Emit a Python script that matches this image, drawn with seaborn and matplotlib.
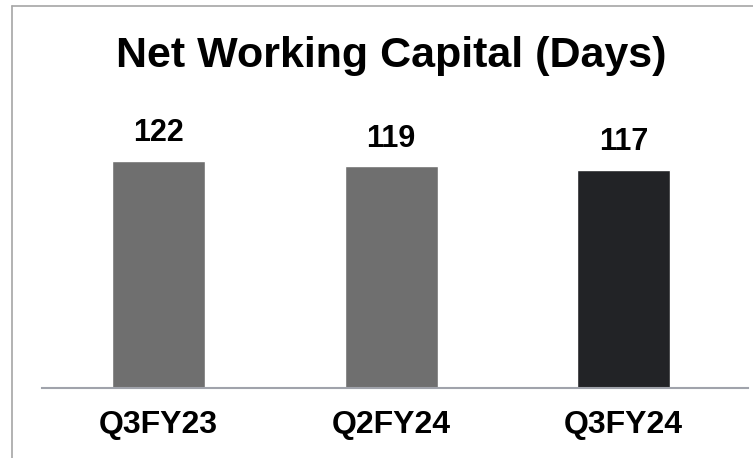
import matplotlib
matplotlib.use('Agg')
import matplotlib.pyplot as plt
import seaborn as sns
import pandas as pd
from matplotlib.lines import Line2D

quarters = ['Q3FY23', 'Q2FY24', 'Q3FY24']
nwc_days = [122, 119, 117]
bar_colors = ['#6f6f6f', '#6f6f6f', '#222326']

df = pd.DataFrame({'quarter': quarters, 'days': nwc_days})

sns.set_style('white')
plt.rcParams['font.family'] = ['Liberation Sans', 'DejaVu Sans']

fig = plt.figure(figsize=(7.53, 4.58), dpi=100)
ax = fig.add_axes([42 / 753, 70 / 458, (748 - 42) / 753, (388 - 6) / 458])

sns.barplot(data=df, x='quarter', y='days', hue='quarter', palette=bar_colors,
            width=0.4, legend=False, ax=ax, saturation=1)

for cont in ax.containers:
    ax.bar_label(cont, fmt='%d', padding=9, fontsize=22, fontweight='bold', color='black')

ax.set_xlim(-0.501, 2.535)
ax.set_ylim(0, 205)
ax.set_xlabel('')
ax.set_ylabel('')
ax.set_yticks([])
ax.tick_params(axis='x', length=0, pad=16, labelsize=23, labelcolor='black')
for lbl in ax.get_xticklabels():
    lbl.set_fontweight('bold')
for s in ['top', 'right', 'left']:
    ax.spines[s].set_visible(False)
ax.spines['bottom'].set_color('#a0a3ab')
ax.spines['bottom'].set_linewidth(1.5)

fig.text(391 / 753, 1 - 56 / 458, 'Net Working Capital (Days)', ha='center', va='center',
         fontsize=31, fontweight='bold', color='black')

# frame lines at top and left
fig.add_artist(Line2D([12 / 753, 1], [1 - 6 / 458] * 2, color='#a6a6a6', lw=1.2))
fig.add_artist(Line2D([12 / 753] * 2, [0, 1 - 6 / 458], color='#a6a6a6', lw=1.2))

fig.savefig('out.png', dpi=100)
